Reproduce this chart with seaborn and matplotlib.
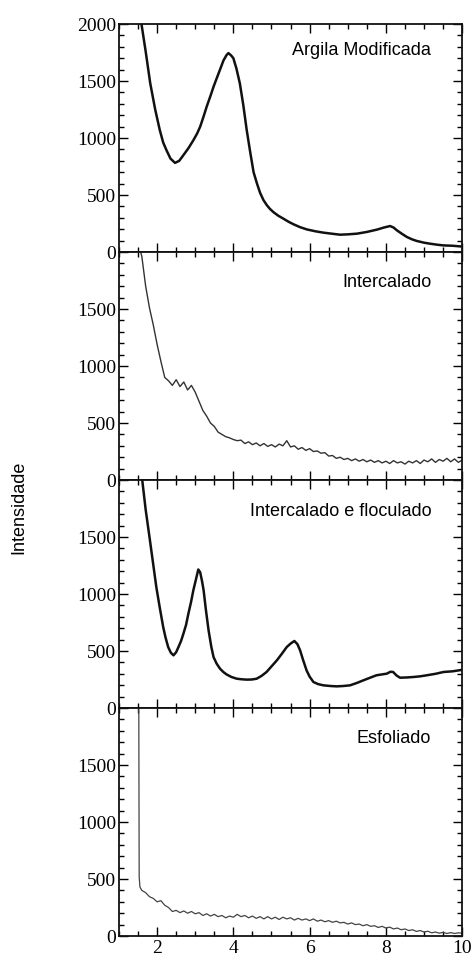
import numpy as np
import pandas as pd
import seaborn as sns
import matplotlib.pyplot as plt
from matplotlib.ticker import MultipleLocator

sns.set_style("ticks")
plt.rcParams["font.family"] = ["Liberation Serif", "DejaVu Serif"]
plt.rcParams["text.color"] = "black"
plt.rcParams["xtick.color"] = "black"
plt.rcParams["ytick.color"] = "black"

# valores (2 theta x intensidade)
argila_x = [1.59, 1.70, 1.82, 1.95, 2.07, 2.16, 2.25, 2.35, 2.47, 2.58,
            2.69, 2.82, 2.95, 3.05, 3.13, 3.22, 3.30, 3.40, 3.48, 3.57,
            3.65, 3.74, 3.82, 3.87, 3.94, 4.00, 4.08, 4.17, 4.26, 4.35,
            4.44, 4.53, 4.62, 4.70, 4.79, 4.88, 4.96, 5.05, 5.18, 5.31,
            5.45, 5.58, 5.75, 5.93, 6.15, 6.36, 6.60, 6.80, 7.00, 7.24,
            7.50, 7.76, 7.95, 8.11, 8.20, 8.29, 8.42, 8.55, 8.68, 8.81,
            9.00, 9.16, 9.35, 9.51, 9.75, 10.0]
argila_y = [2000, 1760, 1480, 1250, 1070, 960, 890, 820, 782, 800,
            850, 910, 980, 1040, 1100, 1190, 1275, 1370, 1450, 1530,
            1600, 1680, 1727, 1745, 1725, 1700, 1610, 1479, 1290, 1070,
            880, 700, 600, 520, 455, 410, 378, 350, 318, 293,
            265, 243, 218, 198, 182, 170, 160, 152, 155, 161,
            176, 196, 215, 228, 215, 190, 160, 132, 112, 97,
            82, 73, 64, 58, 55, 48]

inter_x = [1.57, 1.6, 1.7, 1.8, 1.9, 2.0, 2.1, 2.2, 2.3, 2.4, 2.5,
           2.6, 2.7, 2.8, 2.9, 3.0, 3.1, 3.2, 3.3, 3.4, 3.5,
           3.6, 3.7, 3.8, 3.9, 4.0, 4.1, 4.2, 4.3, 4.4, 4.5,
           4.6, 4.7, 4.8, 4.9, 5.0, 5.1, 5.2, 5.3, 5.4, 5.5,
           5.6, 5.7, 5.8, 5.9, 6.0, 6.1, 6.2, 6.3, 6.4, 6.5,
           6.6, 6.7, 6.8, 6.9, 7.0, 7.1, 7.2, 7.3, 7.4, 7.5,
           7.6, 7.7, 7.8, 7.9, 8.0, 8.1, 8.2, 8.3, 8.4, 8.5,
           8.6, 8.7, 8.8, 8.9, 9.0, 9.1, 9.2, 9.3, 9.4, 9.5,
           9.6, 9.7, 9.8, 9.9, 10.0]
inter_y = [2000, 1960, 1700, 1510, 1360, 1190, 1040, 900, 870, 830, 880,
           820, 860, 790, 830, 770, 690, 610, 560, 500, 470,
           420, 400, 380, 370, 355, 345, 350, 320, 335, 310,
           325, 300, 320, 295, 310, 290, 315, 300, 345, 290,
           300, 270, 285, 260, 275, 250, 255, 235, 240, 210,
           215, 190, 200, 180, 190, 170, 185, 165, 180, 160,
           175, 155, 170, 150, 165, 145, 170, 150, 160, 140,
           165, 150, 170, 145, 175, 160, 185, 155, 180, 165,
           190, 160, 185, 155, 175]

flocul_x = [1.61, 1.70, 1.80, 1.89, 1.98, 2.07, 2.16, 2.22, 2.29, 2.36,
            2.43, 2.50, 2.56, 2.63, 2.69, 2.76, 2.82, 2.89, 2.95, 3.02,
            3.08, 3.13, 3.18, 3.22, 3.28, 3.35, 3.42, 3.48, 3.56, 3.65,
            3.74, 3.82, 3.95, 4.09, 4.22, 4.35, 4.48, 4.61, 4.74, 4.87,
            5.00, 5.14, 5.27, 5.40, 5.50, 5.60, 5.68, 5.75, 5.83, 5.92,
            6.00, 6.10, 6.22, 6.36, 6.55, 6.71, 6.88, 7.06, 7.24, 7.41,
            7.58, 7.75, 7.90, 8.02, 8.12, 8.19, 8.28, 8.37, 8.55, 8.72,
            8.90, 9.07, 9.30, 9.51, 9.75, 10.0]
flocul_y = [2000, 1740, 1500, 1280, 1060, 880, 710, 620, 535, 485,
            462, 490, 535, 590, 652, 730, 827, 930, 1032, 1130,
            1215, 1190, 1110, 1032, 860, 681, 540, 447, 390, 345,
            315, 295, 272, 257, 252, 249, 250, 257, 282, 316,
            365, 418, 475, 535, 565, 588, 560, 506, 420, 330,
            275, 228, 210, 199, 193, 190, 193, 199, 220, 243,
            265, 287, 295, 301, 318, 316, 285, 266, 268, 272,
            278, 287, 300, 316, 322, 335]

esfol_x = [1.52, 1.525, 1.53, 1.55, 1.6, 1.7, 1.8, 1.9, 2.0, 2.1, 2.2,
           2.3, 2.4, 2.5, 2.6, 2.7, 2.8, 2.9, 3.0, 3.1, 3.2,
           3.3, 3.4, 3.5, 3.6, 3.7, 3.8, 3.9, 4.0, 4.1, 4.2,
           4.3, 4.4, 4.5, 4.6, 4.7, 4.8, 4.9, 5.0, 5.1, 5.2,
           5.3, 5.4, 5.5, 5.6, 5.7, 5.8, 5.9, 6.0, 6.1, 6.2,
           6.3, 6.4, 6.5, 6.6, 6.7, 6.8, 6.9, 7.0, 7.1, 7.2,
           7.3, 7.4, 7.5, 7.6, 7.7, 7.8, 7.9, 8.0, 8.1, 8.2,
           8.3, 8.4, 8.5, 8.6, 8.7, 8.8, 8.9, 9.0, 9.1, 9.2,
           9.3, 9.4, 9.5, 9.6, 9.7, 9.8, 9.9, 10.0]
esfol_y = [2000, 1200, 520, 430, 400, 380, 345, 330, 300, 310, 270,
           250, 215, 225, 205, 220, 200, 215, 195, 205, 180,
           195, 175, 190, 170, 180, 160, 175, 165, 190, 170,
           180, 160, 175, 155, 170, 150, 170, 150, 165, 145,
           165, 150, 160, 140, 155, 140, 150, 135, 150, 130,
           140, 125, 135, 120, 130, 115, 120, 105, 115, 100,
           105, 90, 100, 85, 90, 75, 85, 70, 78, 62,
           70, 55, 62, 48, 55, 40, 48, 35, 42, 28,
           35, 25, 32, 22, 30, 22, 28, 25]

paineis = [
    ("Argila Modificada", argila_x, argila_y, "#111111", 1.8, 0.885),
    ("Intercalado", inter_x, inter_y, "#333333", 1.0, 0.865),
    ("Intercalado e floculado", flocul_x, flocul_y, "#111111", 1.8, 0.86),
    ("Esfoliado", esfol_x, esfol_y, "#444444", 0.9, 0.865),
]

fig, axes = plt.subplots(4, 1, figsize=(4.74, 9.61), dpi=100, sharex=True)
fig.subplots_adjust(left=0.251, right=0.975, top=0.975, bottom=0.026, hspace=0)

for i, (nome, xs, ys, cor, lw, ty) in enumerate(paineis):
    ax = axes[i]
    df = pd.DataFrame({"x": xs, "y": ys})
    sns.lineplot(data=df, x="x", y="y", ax=ax, color=cor, linewidth=lw,
                 errorbar=None, sort=False)
    ax.set_xlim(1, 10)
    ax.set_ylim(0, 2000)
    ax.set_xlabel("")
    ax.set_ylabel("")
    ax.set_yticks([0, 500, 1000, 1500, 2000])
    if i == 0:
        ax.set_yticklabels(["0", "500", "1000", "1500", "2000"])
    else:
        ax.set_yticklabels(["0", "500", "1000", "1500", ""])
    ax.yaxis.set_minor_locator(MultipleLocator(100))
    ax.set_xticks([2, 4, 6, 8, 10])
    ax.xaxis.set_minor_locator(MultipleLocator(0.5))
    ax.tick_params(which="both", direction="in", top=True, right=True,
                   width=1.0, labelsize=14, pad=2)
    ax.tick_params(which="major", length=6.5)
    ax.tick_params(which="minor", length=3.5)
    for s in ax.spines.values():
        s.set_linewidth(1.3)
        s.set_color("#111111")
    ax.text(0.91, ty, nome, transform=ax.transAxes, ha="right", va="center",
            fontsize=13, color="black", family=["Liberation Sans", "DejaVu Sans"])
    if i < 3:
        ax.tick_params(labelbottom=False)

axes[-1].tick_params(axis="x", labelsize=14, pad=3)

fig.text(0.040, 0.472, "Intensidade", rotation=90, ha="center", va="center",
         fontsize=13, color="black", family=["Liberation Sans", "DejaVu Sans"])

fig.savefig("out.png", dpi=100)
